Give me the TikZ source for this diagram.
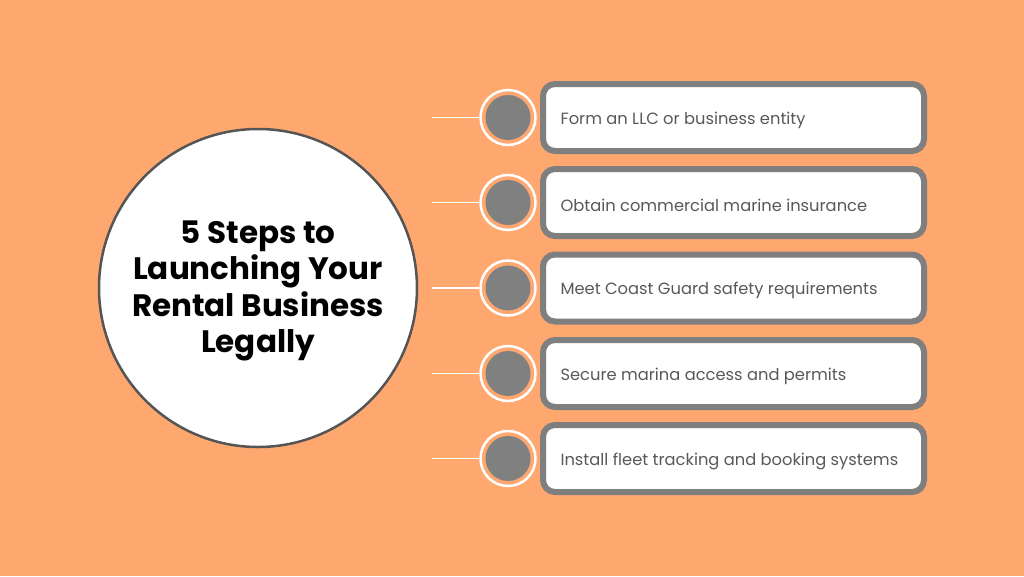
\documentclass[tikz,border=0pt]{standalone}
\usepackage{fontspec}
\setmainfont{Poppins}
\definecolor{bg}{HTML}{FEA870}
\definecolor{boxgray}{HTML}{7F7F7F}
\definecolor{dotgray}{HTML}{808080}
\definecolor{txtgray}{HTML}{595959}
\definecolor{rimgray}{HTML}{555555}
\tikzset{
  stepbox/.style={draw=boxgray, line width=6pt, fill=white, rounded corners=12pt, minimum width=381pt, minimum height=67pt, inner sep=0pt},
  steptext/.style={anchor=west, text=txtgray, font=\fontsize{16.3}{19}\selectfont},
  ring/.style={circle, draw=white, line width=2.5pt, fill=bg, minimum size=55pt, inner sep=0pt},
  dot/.style={circle, fill=dotgray, minimum size=45pt, inner sep=0pt},
  stem/.style={draw=white, line width=1.5pt},
}
\begin{document}
\begin{tikzpicture}[x=1pt,y=-1pt]
\fill[bg] (0,0) rectangle (1024,576);
\useasboundingbox (0,0) rectangle (1024,576);
\node[circle, draw=rimgray, line width=2.5pt, fill=white, minimum size=318pt, inner sep=0pt] (hub) at (258,288) {};
\node[align=center, font=\fontsize{31}{36.5}\selectfont\bfseries] (title) at (258,291) {5 Steps to\\Launching Your\\Rental Business\\Legally};
\foreach \i/\y/\t in {1/117.5/{Form an LLC or business entity},
                      2/202.5/{Obtain commercial marine insurance},
                      3/288/{Meet Coast Guard safety requirements},
                      4/373.5/{Secure marina access and permits},
                      5/458.5/{Install fleet tracking and booking systems}}{
  \coordinate (s\i) at (432,\y);
  \node[ring] (r\i) at (508,\y) {};
  \node[dot] (d\i) at (508,\y) {};
  \draw[stem] (s\i) -- (r\i.west);
  \node[stepbox] (b\i) at (733.5,\y) {};
  \node[steptext] (t\i) at (557,\y+2.5) {\t};
}
\end{tikzpicture}
\end{document}
